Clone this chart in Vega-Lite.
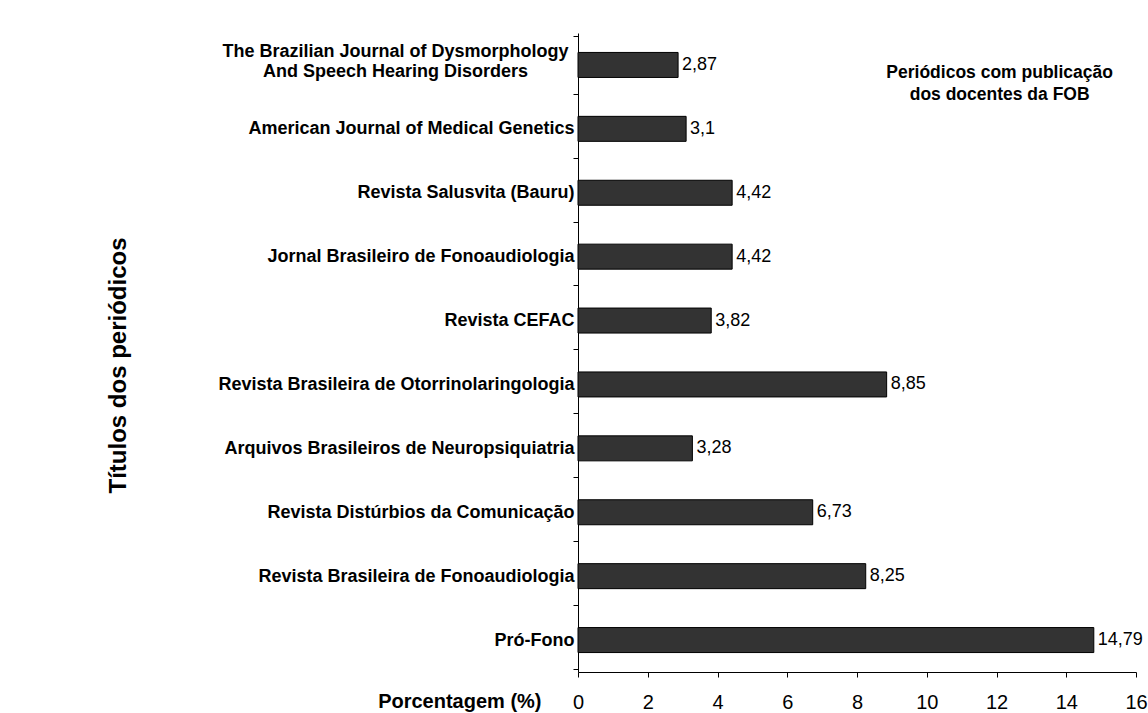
{
  "$schema": "https://vega.github.io/schema/vega-lite/v6.json",
  "width": 558,
  "height": 639,
  "autosize": {"type": "none"},
  "padding": {"left": 578, "top": 33, "right": 12, "bottom": 41},
  "background": "white",
  "config": {
    "view": {"stroke": null},
    "font": "Liberation Sans",
    "axis": {"grid": false, "domainColor": "black", "tickColor": "black", "labelColor": "black", "titleColor": "black", "labelFont": "Liberation Sans", "titleFont": "Liberation Sans"}
  },
  "datasets": {
    "bars": [
      {"periodico": "The Brazilian Journal of Dysmorphology And Speech Hearing Disorders", "pct": 2.87, "label": "2,87"},
      {"periodico": "American Journal of Medical Genetics", "pct": 3.1, "label": "3,1"},
      {"periodico": "Revista Salusvita (Bauru)", "pct": 4.42, "label": "4,42"},
      {"periodico": "Jornal Brasileiro de Fonoaudiologia", "pct": 4.42, "label": "4,42"},
      {"periodico": "Revista CEFAC", "pct": 3.82, "label": "3,82"},
      {"periodico": "Revista Brasileira de Otorrinolaringologia", "pct": 8.85, "label": "8,85"},
      {"periodico": "Arquivos Brasileiros de Neuropsiquiatria", "pct": 3.28, "label": "3,28"},
      {"periodico": "Revista Distúrbios da Comunicação", "pct": 6.73, "label": "6,73"},
      {"periodico": "Revista Brasileira de Fonoaudiologia", "pct": 8.25, "label": "8,25"},
      {"periodico": "Pró-Fono", "pct": 14.79, "label": "14,79"}
    ],
    "note": [
      {"periodico": "The Brazilian Journal of Dysmorphology And Speech Hearing Disorders", "pct": 12.09, "text": ["Periódicos com publicação", "dos docentes da FOB"]}
    ]
  },
  "encoding": {
    "y": {
      "field": "periodico",
      "type": "nominal",
      "sort": null,
      "axis": {
        "title": "Títulos dos periódicos",
        "titleFontSize": 24,
        "titleFontWeight": "bold",
        "titleX": -460,
        "titleY": 332,
        "titleAlign": "center",
        "titleBaseline": "middle",
        "titleAngle": -90,
        "labelFontSize": 18,
        "labelFontWeight": "bold",
        "labelLineHeight": 20,
        "labelPadding": {"condition": {"test": "datum.value == 'The Brazilian Journal of Dysmorphology And Speech Hearing Disorders'", "value": 178}, "value": -1},
        "labelAlign": {"condition": {"test": "datum.value == 'The Brazilian Journal of Dysmorphology And Speech Hearing Disorders'", "value": "center"}, "value": "right"},
        "labelOffset": {"condition": {"test": "datum.value == 'The Brazilian Journal of Dysmorphology And Speech Hearing Disorders'", "value": -13}, "value": 0},
        "labelLimit": 600,
        "tickBand": "extent",
        "tickSize": 5,
        "labelExpr": "datum.value == 'The Brazilian Journal of Dysmorphology And Speech Hearing Disorders' ? ['The Brazilian Journal of Dysmorphology', 'And Speech Hearing Disorders'] : datum.label"
      }
    },
    "x": {
      "field": "pct",
      "type": "quantitative",
      "scale": {"domain": [0, 16], "nice": false},
      "axis": {
        "values": [0, 2, 4, 6, 8, 10, 12, 14, 16],
        "title": "Porcentagem (%)",
        "titleFontSize": 20,
        "titleFontWeight": "bold",
        "titleAlign": "right",
        "titleBaseline": "middle",
        "titleX": -37,
        "titleY": 29,
        "labelFontSize": 20,
        "labelPadding": 15,
        "tickSize": 5,
        "labelFlush": false,
        "labelOverlap": false
      }
    }
  },
  "layer": [
    {
      "data": {"name": "bars"},
      "mark": {"type": "bar", "color": "#333333", "stroke": "black", "strokeWidth": 1, "size": 25}
    },
    {
      "data": {"name": "bars"},
      "mark": {"type": "text", "align": "left", "baseline": "middle", "dx": 4, "fontSize": 18, "color": "black", "font": "Liberation Sans"},
      "encoding": {"text": {"field": "label"}}
    },
    {
      "data": {"name": "note"},
      "mark": {"type": "text", "align": "center", "baseline": "top", "dy": -1, "fontSize": 17.5, "fontWeight": "bold", "lineHeight": 22, "color": "black", "font": "Liberation Sans"},
      "encoding": {"text": {"field": "text"}}
    }
  ]
}
